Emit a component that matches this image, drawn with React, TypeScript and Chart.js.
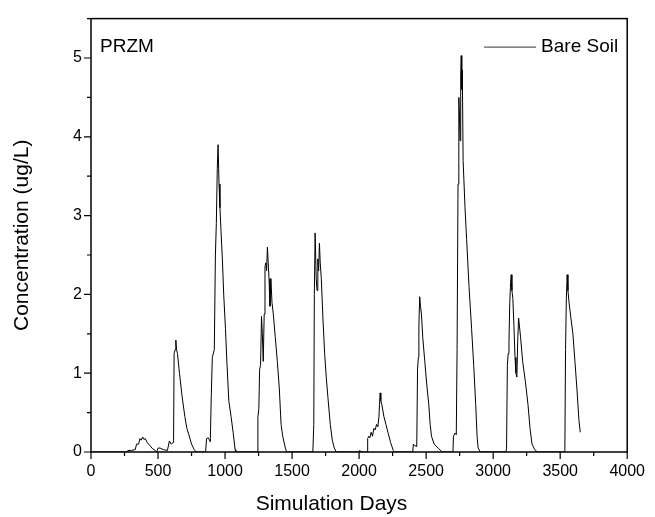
import React, { useEffect, useRef } from "react";
import { Chart, registerables } from "chart.js";

Chart.register(...registerables);

const seriesLabel = "Bare Soil";
const panelLabel = "PRZM";
const xTitle = "Simulation Days";
const yTitle = "Concentration (ug/L)";
const xTicks = [0, 500, 1000, 1500, 2000, 2500, 3000, 3500, 4000];
const yTicks = [0, 1, 2, 3, 4, 5];

const days = [
  1, 270, 275, 300, 330, 340, 355, 365, 375, 385, 395, 405, 420, 440, 460, 480, 490, 500, 515, 540, 570, 585, 598, 612, 616,
  620, 628, 633, 638, 645, 660, 680, 700, 715, 730, 750, 770, 785,
  855, 862, 875, 890, 897, 905, 920, 928, 935, 942, 948, 955, 962, 970, 980, 990, 1003, 1015, 1028, 1045, 1060, 1075, 1080,
  1240, 1245, 1252, 1258, 1265, 1272, 1278, 1285, 1292, 1298, 1304, 1310, 1316, 1322, 1328, 1335, 1342, 1350, 1360, 1375, 1390, 1405, 1418, 1430, 1450, 1460,
  1655, 1662, 1666, 1672, 1680, 1686, 1692, 1698, 1704, 1710, 1718, 1730, 1743, 1755, 1767, 1785, 1800, 1815, 1830,
  2000, 2005, 2015,
  2060, 2064, 2072, 2080, 2090, 2100, 2110, 2120, 2130, 2140, 2148, 2152, 2157, 2162, 2170, 2185, 2200, 2215, 2235, 2255, 2262,
  2400, 2405, 2415, 2430, 2436, 2442, 2446, 2452, 2458, 2465, 2475, 2490, 2505, 2520, 2530, 2540, 2560, 2590, 2620,
  2700, 2704, 2715, 2725, 2731, 2738, 2744, 2749, 2753, 2758, 2762, 2766, 2770, 2776, 2790, 2802, 2820, 2839, 2855, 2870, 2880, 2888, 2905,
  3095, 3100, 3106, 3112, 3118, 3124, 3130, 3135, 3140, 3147, 3155, 3163, 3170, 3177, 3183, 3190, 3196, 3205, 3220, 3240, 3260, 3275, 3290, 3310, 3330,
  3530, 3535, 3540, 3546, 3552, 3558, 3566, 3580, 3595, 3610, 3625, 3640, 3650,
];

const conc = [
  0, 0, 0.02, 0.02, 0.03, 0.1, 0.1, 0.17, 0.15, 0.19, 0.16, 0.17, 0.12, 0.08, 0.04, 0.02, 0.0, 0.05, 0.05, 0.03, 0.02, 0.14, 0.1, 0.12, 0.15,
  1.25, 1.3, 1.42, 1.3, 1.25, 1.0, 0.7, 0.45, 0.3, 0.22, 0.1, 0.03, 0,
  0, 0.17, 0.18, 0.13, 0.7, 1.2, 1.3, 2.5, 2.9, 3.6, 3.9, 3.4, 3.1, 2.8, 2.45, 2.0, 1.57, 1.1, 0.65, 0.45, 0.25, 0.03, 0,
  0, 0.44, 0.55, 1.05, 1.1, 1.72, 1.5, 1.15, 1.75, 2.35, 2.4, 2.3, 2.6, 2.4, 2.2, 1.85, 2.2, 1.9, 1.75, 1.45, 1.15, 0.8, 0.35, 0.2, 0.05, 0,
  0, 0.35, 2.0, 2.78, 2.2, 2.05, 2.45, 2.3, 2.65, 2.4, 2.2, 1.7, 1.25, 0.95, 0.7, 0.35, 0.15, 0.05, 0,
  0, 0.02, 0,
  0, 0.17, 0.2, 0.18, 0.25, 0.2, 0.3, 0.28, 0.35, 0.32, 0.45, 0.6, 0.75, 0.65, 0.6, 0.45, 0.35, 0.25, 0.12, 0.02, 0,
  0, 0.1, 0.08, 0.07, 1.05, 1.2, 1.6, 1.97, 1.85, 1.75, 1.45, 1.15, 0.85, 0.6, 0.35, 0.2, 0.1, 0.05, 0,
  0, 0.2, 0.24, 0.22, 1.3, 3.4, 4.5, 4.25, 3.95, 4.8, 5.03, 4.6, 4.85, 3.7, 3.1, 2.7, 2.1, 1.57, 1.1, 0.6, 0.2, 0.05, 0,
  0, 0.05, 1.1, 1.25, 1.4, 1.9, 2.15, 2.25, 2.05, 1.95, 1.6, 1.2, 1.0, 0.95, 1.4, 1.7, 1.6, 1.45, 1.15, 0.9, 0.6, 0.3, 0.1, 0.03, 0,
  0, 0.02, 1.3, 1.95, 2.25, 2.05, 1.9, 1.7, 1.5, 1.15, 0.8, 0.4, 0.25,
];

const FONT = "'Liberation Sans', Arial, Helvetica, sans-serif";

const framePlugin = {
  id: "frameAndDecor",
  afterDatasetsDraw(chart: any) {
    const { ctx, chartArea, scales, width } = chart;
    const { left, right, top, bottom } = chartArea;
    const xs = scales.x;
    const ys = scales.y;
    ctx.save();
    ctx.strokeStyle = "#000";
    ctx.lineWidth = 1.5;
    ctx.strokeRect(left, top, right - left, bottom - top);
    ctx.lineWidth = 1.2;
    ctx.beginPath();
    for (let v = 0; v <= 4000; v += 250) {
      const px = xs.getPixelForValue(v);
      const len = v % 500 === 0 ? 7 : 4;
      ctx.moveTo(px, bottom);
      ctx.lineTo(px, bottom + len);
    }
    for (let v = 0; v <= 5.5001; v += 0.5) {
      const py = ys.getPixelForValue(v);
      const len = Math.abs(v - Math.round(v)) < 1e-6 ? 7 : 4;
      ctx.moveTo(left, py);
      ctx.lineTo(left - len, py);
    }
    ctx.stroke();

    ctx.fillStyle = "#000";
    ctx.textBaseline = "middle";
    ctx.textAlign = "left";
    ctx.font = `19px ${FONT}`;
    ctx.fillText(panelLabel, left + 9, top + 28);

    const ds = chart.data.datasets[0];
    ctx.font = `19px ${FONT}`;
    ctx.textAlign = "right";
    ctx.fillText(ds.label, right - 9, top + 28);
    const tw = ctx.measureText(ds.label).width;
    const lx2 = right - 9 - tw - 5;
    ctx.strokeStyle = "#333";
    ctx.lineWidth = 1;
    ctx.beginPath();
    ctx.moveTo(lx2 - 52, top + 28.5);
    ctx.lineTo(lx2, top + 28.5);
    ctx.stroke();

    ctx.font = `21px ${FONT}`;
    ctx.textAlign = "center";
    ctx.fillStyle = "#000";
    ctx.fillText(xTitle, width / 2 + 4, 504);
    ctx.restore();
  },
};

export default function App() {
  const ref = useRef<HTMLCanvasElement | null>(null);
  useEffect(() => {
    if (!ref.current) return;
    const chart = new Chart(ref.current, {
      type: "line",
      data: {
        datasets: [
          {
            label: seriesLabel,
            data: days.map((d, i) => ({ x: d, y: conc[i] })),
            borderColor: "#000",
            borderWidth: 1,
            pointRadius: 0,
            tension: 0,
            fill: false,
          },
        ],
      },
      options: {
        responsive: false,
        animation: false,
        layout: { padding: { top: 13, right: 23, left: 0, bottom: 0 } },
        plugins: { legend: { display: false }, tooltip: { enabled: false } },
        scales: {
          x: {
            type: "linear",
            min: 0,
            max: 4000,
            afterFit(s: any) {
              s.height = 65;
            },
            afterBuildTicks(s: any) {
              s.ticks = xTicks.map((v) => ({ value: v }));
            },
            grid: { display: false, drawTicks: false },
            border: { display: false },
            ticks: {
              padding: 10,
              color: "#000",
              font: { family: FONT, size: 16 },
              maxRotation: 0,
              autoSkip: false,
              callback: (v: any) => String(v),
            },
            title: { display: false, text: xTitle },
          },
          y: {
            type: "linear",
            min: 0,
            max: 5.5,
            afterFit(s: any) {
              s.width = 91;
            },
            afterBuildTicks(s: any) {
              s.ticks = yTicks.map((v) => ({ value: v }));
            },
            grid: { display: false, drawTicks: false },
            border: { display: false },
            ticks: {
              padding: 9,
              color: "#000",
              font: { family: FONT, size: 16 },
              callback: (v: any) => String(v),
            },
            title: {
              display: true,
              text: yTitle,
              color: "#000",
              font: { family: FONT, size: 21 },
              padding: { top: 10, bottom: 0 },
            },
          },
        },
      },
      plugins: [framePlugin],
    } as any);
    return () => chart.destroy();
  }, []);
  return (
    <div style={{ position: "absolute", left: 0, top: 0, width: 655, height: 517, background: "#fff" }}>
      <canvas ref={ref} width={655} height={517} />
    </div>
  );
}
